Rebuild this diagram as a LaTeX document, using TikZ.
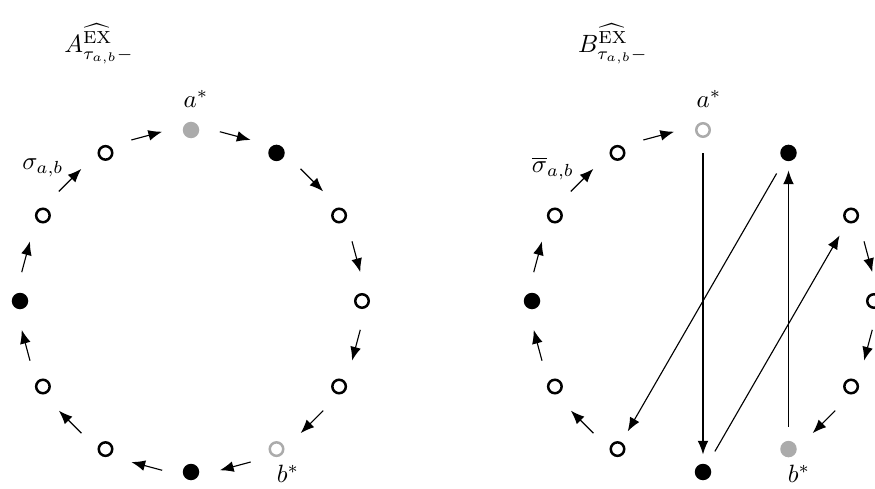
\documentclass[tikz,border=0pt]{standalone}
\usetikzlibrary{arrows.meta,calc}
\begin{document}
\begin{tikzpicture}[x=0.4pt,y=0.4pt,
  vopen/.style={circle,draw=black,line width=1pt,fill=white,minimum size=5.4pt,inner sep=0pt},
  vfull/.style={circle,fill=black,minimum size=6.6pt,inner sep=0pt},
  vgfull/.style={circle,fill=black!33,minimum size=6.6pt,inner sep=0pt},
  vgopen/.style={circle,draw=black!33,line width=1pt,fill=white,minimum size=5.4pt,inner sep=0pt},
  arr/.style={-{Latex[length=5.5pt,width=4.3pt]},line width=0.45pt},
  lbl/.style={inner sep=0pt}]
\useasboundingbox (0,0) rectangle (875,488);

% left circle nodes
\foreach \k/\s in {0/vgfull,1/vfull,2/vopen,3/vopen,4/vopen,5/vgopen,6/vfull,7/vopen,8/vopen,9/vfull,10/vopen,11/vopen}
  \node[\s] (L\k) at ({191+171*cos(90-30*\k)},{187+171*sin(90-30*\k)}) {};
% right circle nodes
\foreach \k/\s in {0/vgopen,1/vfull,2/vopen,3/vopen,4/vopen,5/vgfull,6/vfull,7/vopen,8/vopen,9/vfull,10/vopen,11/vopen}
  \node[\s] (R\k) at ({703+171*cos(90-30*\k)},{187+171*sin(90-30*\k)}) {};

% left circle arrows
\foreach \k in {0,...,11}{
  \pgfmathtruncatemacro\j{mod(\k+1,12)}
  \pgfmathsetmacro\m{75-30*\k}
  \draw[arr] ($(L\k)!0.32!(L\j)+(\m:5.8)$) -- ($(L\k)!0.68!(L\j)+(\m:5.8)$);
}
% right circle arrows
\foreach \k in {2,3,4,7,8,9,10,11}{
  \pgfmathtruncatemacro\j{mod(\k+1,12)}
  \pgfmathsetmacro\m{75-30*\k}
  \draw[arr] ($(R\k)!0.32!(R\j)+(\m:5.8)$) -- ($(R\k)!0.68!(R\j)+(\m:5.8)$);
}
% long arrows
\draw[arr,shorten <=6pt,shorten >=3.5pt] (R0) -- (R6);
\draw[arr,shorten <=6pt,shorten >=6pt] (R6) -- (R2);
\draw[arr,shorten <=5.5pt,shorten >=3.5pt] (R5) -- (R1);
\draw[arr,shorten <=6pt,shorten >=5pt] (R1) -- (R7);

% labels
\node[lbl] (ta) at (99,444) {$A^{\widehat{\mathrm{EX}}}_{\tau_{a,b}-}$};
\node[lbl] (tb) at (613,444) {$B^{\widehat{\mathrm{EX}}}_{\tau_{a,b}-}$};
\node[lbl] (la) at (196,389) {$a^*$};
\node[lbl] (ra) at (709,389) {$a^*$};
\node[lbl] (lb) at (288,14) {$b^*$};
\node[lbl] (rb) at (799,14) {$b^*$};
\node[lbl] (ls) at (43,320) {$\sigma_{a,b}$};
\node[lbl] (rs) at (553,320) {$\overline{\sigma}_{a,b}$};
\end{tikzpicture}
\end{document}
